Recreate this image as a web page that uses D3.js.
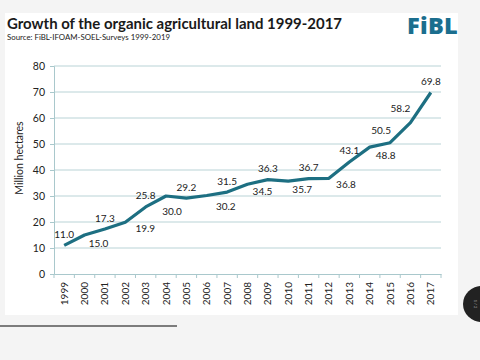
<!DOCTYPE html>
<html><head><meta charset="utf-8">
<script src="https://cdn.jsdelivr.net/npm/d3@7"></script>
<style>
html,body{margin:0;padding:0;background:#f4f4f4;}
svg{display:block;}
</style></head>
<body>
<svg id="c" width="480" height="360"></svg>
<script>
const years = ["1999","2000","2001","2002","2003","2004","2005","2006","2007","2008","2009","2010","2011","2012","2013","2014","2015","2016","2017"];
const hectares = [11.0,15.0,17.3,19.9,25.8,30.0,29.2,30.2,31.5,34.5,36.3,35.7,36.7,36.8,43.1,48.8,50.5,58.2,69.8];
const yTicks = [0,10,20,30,40,50,60,70,80];
const titleText = "Growth of the organic agricultural land 1999-2017";
const sourceText = "Source: FiBL-IFOAM-SOEL-Surveys 1999-2019";
const yTitle = "Million hectares";
// label placement (layout only): [dx, dy] in px relative to the point
const labelOffsets = [[0,-11],[14,8],[0,-11],[20,6],[0,-11],[6,15],[0,-11],[19,11],[0,-11],[15,7],[0,-11],[14,8],[0,-11],[17,6],[0,-11],[16,8],[-9,-12],[-10,-14],[0,-11]];

const svg = d3.select("#c");
const font = "Lato, 'Open Sans', sans-serif";

svg.append("rect").attr("x",5).attr("y",13).attr("width",453).attr("height",302).attr("fill","#fff");

const t = svg.append("text").attr("x",7).attr("y",29).attr("font-family",font).attr("font-weight",700)
  .attr("font-size",15.4).attr("fill","#1a1a1a").text(titleText);
t.attr("textLength",335).attr("lengthAdjust","spacingAndGlyphs");
svg.append("text").attr("x",7).attr("y",39.5).attr("font-family",font)
  .attr("font-size",7.9).attr("fill","#222").attr("textLength",163).attr("lengthAdjust","spacingAndGlyphs").text(sourceText);
svg.append("text").attr("x",458).attr("y",34).attr("text-anchor","end").attr("font-family","'Open Sans', Lato, sans-serif").attr("font-weight",800)
  .attr("font-size",23.5).attr("fill","#1b6e8e").attr("letter-spacing",0.3).text("FiBL");

const x = d3.scaleBand().domain(years).range([54,441]);
const y = d3.scaleLinear().domain([0,80]).range([274,66]);

// gridlines
svg.append("g").selectAll("line").data(yTicks.filter(d=>d>0)).join("line")
  .attr("x1",54).attr("x2",441).attr("y1",d=>y(d)).attr("y2",d=>y(d))
  .attr("stroke","#b9d3d6").attr("stroke-width",1);

// y axis
const ya = svg.append("g").attr("transform","translate(54,0)").call(d3.axisLeft(y).tickValues(yTicks).tickSize(4).tickPadding(5).tickFormat(d3.format("d")));
ya.select(".domain").attr("stroke","#a9c8cc");
ya.selectAll(".tick line").attr("stroke","#a9c8cc");
ya.selectAll("text").attr("font-family",font).attr("font-size",10.5).attr("fill","#222");

// x axis
const xa = svg.append("g").attr("transform","translate(0,274)").call(d3.axisBottom(x).tickSize(0).tickPadding(0));
xa.select(".domain").attr("stroke","#a9c8cc");
xa.selectAll("text").attr("font-family",font).attr("font-size",10).attr("fill","#222")
  .attr("transform","rotate(-90)").attr("text-anchor","end").attr("dx","-8").attr("dy","0.35em")
  .attr("x",0).attr("y",0);
// band boundary ticks
const bounds = years.map(d=>x(d)).concat([x(years[years.length-1])+x.bandwidth()]);
svg.append("g").selectAll("line").data(bounds).join("line")
  .attr("x1",d=>d).attr("x2",d=>d).attr("y1",274).attr("y2",278).attr("stroke","#a9c8cc");

svg.append("text").attr("transform","translate(23,158) rotate(-90)").attr("text-anchor","middle")
  .attr("font-family",font).attr("font-size",10.5).attr("fill","#222").text(yTitle);

// line
const cx = i => x(years[i]) + x.bandwidth()/2;
svg.append("path").datum(hectares)
  .attr("d", d3.line().x((d,i)=>cx(i)).y(d=>y(d)))
  .attr("fill","none").attr("stroke","#1d6f82").attr("stroke-width",3.2).attr("stroke-linejoin","round");

// labels
svg.append("g").selectAll("text").data(hectares).join("text")
  .attr("x",(d,i)=>cx(i)+labelOffsets[i][0]).attr("y",(d,i)=>y(d)+labelOffsets[i][1])
  .attr("dy","0.35em").attr("text-anchor","middle")
  .attr("font-family",font).attr("font-size",10).attr("fill","#222")
  .text(d=>d.toFixed(1));

// decorations outside the chart panel
svg.append("line").attr("x1",0).attr("x2",177).attr("y1",326).attr("y2",326).attr("stroke","#555").attr("stroke-width",1.5);
svg.append("ellipse").attr("cx",482).attr("cy",304).attr("rx",19).attr("ry",18).attr("fill","#222");
svg.append("text").attr("transform","translate(474,304) rotate(90)").attr("text-anchor","middle")
  .attr("font-family",font).attr("font-size",4).attr("fill","#aaa").text("1 / 2");
</script>
</body></html>
